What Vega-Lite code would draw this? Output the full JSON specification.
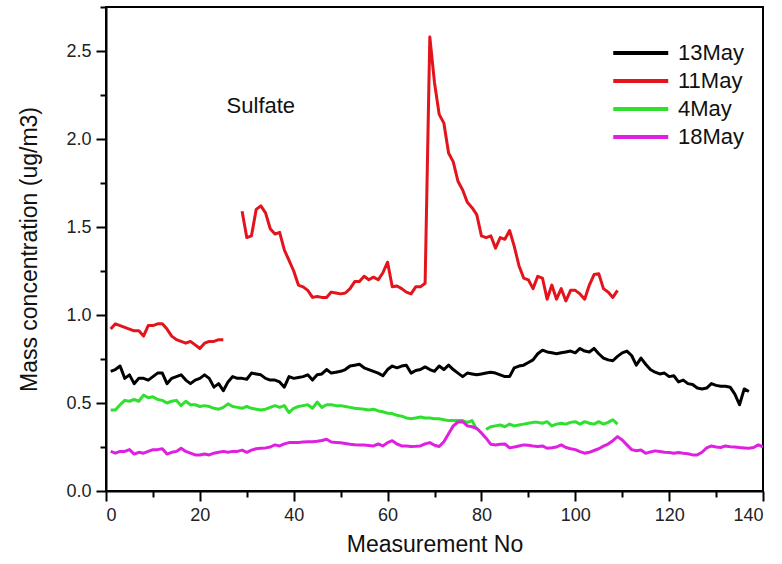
{
  "$schema": "https://vega.github.io/schema/vega-lite/v6.json",
  "width": 657,
  "height": 484,
  "autosize": {"type": "none"},
  "padding": {"left": 106, "top": 7, "right": 19, "bottom": 73},
  "background": "white",
  "config": {
    "font": "Liberation Sans",
    "view": {"stroke": "black", "strokeWidth": 2},
    "axis": {
      "grid": false,
      "domainColor": "black",
      "domainWidth": 2,
      "tickColor": "black",
      "tickWidth": 2,
      "labelFont": "Liberation Sans",
      "labelFontSize": 18,
      "labelColor": "#222",
      "titleFont": "Liberation Sans",
      "titleFontSize": 23,
      "titleFontWeight": "normal",
      "titleColor": "#111"
    },
    "legend": {
      "orient": "none",
      "legendX": 505,
      "legendY": 30,
      "title": null,
      "symbolType": "M-1,0H3",
      "symbolSize": 756,
      "symbolStrokeWidth": 4,
      "labelFont": "Liberation Sans",
      "labelFontSize": 22,
      "labelColor": "#111",
      "labelOffset": 35,
      "rowPadding": 1
    }
  },
  "data": {"values": [
    {"s":"13May","g":"13May","x":1,"y":0.68},{"s":"13May","g":"13May","x":2,"y":0.69},{"s":"13May","g":"13May","x":3,"y":0.71},{"s":"13May","g":"13May","x":4,"y":0.64},{"s":"13May","g":"13May","x":5,"y":0.66},{"s":"13May","g":"13May","x":6,"y":0.61},{"s":"13May","g":"13May","x":7,"y":0.64},{"s":"13May","g":"13May","x":8,"y":0.64},{"s":"13May","g":"13May","x":9,"y":0.63},{"s":"13May","g":"13May","x":10,"y":0.65},
    {"s":"13May","g":"13May","x":11,"y":0.67},{"s":"13May","g":"13May","x":12,"y":0.67},{"s":"13May","g":"13May","x":13,"y":0.61},{"s":"13May","g":"13May","x":14,"y":0.64},{"s":"13May","g":"13May","x":15,"y":0.65},{"s":"13May","g":"13May","x":16,"y":0.66},{"s":"13May","g":"13May","x":17,"y":0.63},{"s":"13May","g":"13May","x":18,"y":0.61},{"s":"13May","g":"13May","x":19,"y":0.63},{"s":"13May","g":"13May","x":20,"y":0.64},
    {"s":"13May","g":"13May","x":21,"y":0.66},{"s":"13May","g":"13May","x":22,"y":0.64},{"s":"13May","g":"13May","x":23,"y":0.59},{"s":"13May","g":"13May","x":24,"y":0.61},{"s":"13May","g":"13May","x":25,"y":0.57},{"s":"13May","g":"13May","x":26,"y":0.62},{"s":"13May","g":"13May","x":27,"y":0.65},{"s":"13May","g":"13May","x":28,"y":0.64},{"s":"13May","g":"13May","x":29,"y":0.64},{"s":"13May","g":"13May","x":30,"y":0.635},
    {"s":"13May","g":"13May","x":31,"y":0.67},{"s":"13May","g":"13May","x":32,"y":0.665},{"s":"13May","g":"13May","x":33,"y":0.66},{"s":"13May","g":"13May","x":34,"y":0.64},{"s":"13May","g":"13May","x":35,"y":0.63},{"s":"13May","g":"13May","x":36,"y":0.63},{"s":"13May","g":"13May","x":37,"y":0.62},{"s":"13May","g":"13May","x":38,"y":0.59},{"s":"13May","g":"13May","x":39,"y":0.65},{"s":"13May","g":"13May","x":40,"y":0.64},
    {"s":"13May","g":"13May","x":41,"y":0.645},{"s":"13May","g":"13May","x":42,"y":0.65},{"s":"13May","g":"13May","x":43,"y":0.66},{"s":"13May","g":"13May","x":44,"y":0.63},{"s":"13May","g":"13May","x":45,"y":0.66},{"s":"13May","g":"13May","x":46,"y":0.665},{"s":"13May","g":"13May","x":47,"y":0.69},{"s":"13May","g":"13May","x":48,"y":0.67},{"s":"13May","g":"13May","x":49,"y":0.675},{"s":"13May","g":"13May","x":50,"y":0.68},
    {"s":"13May","g":"13May","x":51,"y":0.69},{"s":"13May","g":"13May","x":52,"y":0.71},{"s":"13May","g":"13May","x":53,"y":0.715},{"s":"13May","g":"13May","x":54,"y":0.72},{"s":"13May","g":"13May","x":55,"y":0.70},{"s":"13May","g":"13May","x":56,"y":0.69},{"s":"13May","g":"13May","x":57,"y":0.68},{"s":"13May","g":"13May","x":58,"y":0.67},{"s":"13May","g":"13May","x":59,"y":0.655},{"s":"13May","g":"13May","x":60,"y":0.69},
    {"s":"13May","g":"13May","x":61,"y":0.71},{"s":"13May","g":"13May","x":62,"y":0.70},{"s":"13May","g":"13May","x":63,"y":0.71},{"s":"13May","g":"13May","x":64,"y":0.715},{"s":"13May","g":"13May","x":65,"y":0.67},{"s":"13May","g":"13May","x":66,"y":0.685},{"s":"13May","g":"13May","x":67,"y":0.69},{"s":"13May","g":"13May","x":68,"y":0.705},{"s":"13May","g":"13May","x":69,"y":0.69},{"s":"13May","g":"13May","x":70,"y":0.68},
    {"s":"13May","g":"13May","x":71,"y":0.71},{"s":"13May","g":"13May","x":72,"y":0.69},{"s":"13May","g":"13May","x":73,"y":0.715},{"s":"13May","g":"13May","x":74,"y":0.69},{"s":"13May","g":"13May","x":75,"y":0.67},{"s":"13May","g":"13May","x":76,"y":0.65},{"s":"13May","g":"13May","x":77,"y":0.67},{"s":"13May","g":"13May","x":78,"y":0.665},{"s":"13May","g":"13May","x":79,"y":0.66},{"s":"13May","g":"13May","x":80,"y":0.665},
    {"s":"13May","g":"13May","x":81,"y":0.67},{"s":"13May","g":"13May","x":82,"y":0.675},{"s":"13May","g":"13May","x":83,"y":0.67},{"s":"13May","g":"13May","x":84,"y":0.66},{"s":"13May","g":"13May","x":85,"y":0.65},{"s":"13May","g":"13May","x":86,"y":0.65},{"s":"13May","g":"13May","x":87,"y":0.70},{"s":"13May","g":"13May","x":88,"y":0.71},{"s":"13May","g":"13May","x":89,"y":0.715},{"s":"13May","g":"13May","x":90,"y":0.73},
    {"s":"13May","g":"13May","x":91,"y":0.745},{"s":"13May","g":"13May","x":92,"y":0.78},{"s":"13May","g":"13May","x":93,"y":0.80},{"s":"13May","g":"13May","x":94,"y":0.79},{"s":"13May","g":"13May","x":95,"y":0.785},{"s":"13May","g":"13May","x":96,"y":0.78},{"s":"13May","g":"13May","x":97,"y":0.785},{"s":"13May","g":"13May","x":98,"y":0.79},{"s":"13May","g":"13May","x":99,"y":0.795},{"s":"13May","g":"13May","x":100,"y":0.785},
    {"s":"13May","g":"13May","x":101,"y":0.81},{"s":"13May","g":"13May","x":102,"y":0.795},{"s":"13May","g":"13May","x":103,"y":0.79},{"s":"13May","g":"13May","x":104,"y":0.81},{"s":"13May","g":"13May","x":105,"y":0.78},{"s":"13May","g":"13May","x":106,"y":0.755},{"s":"13May","g":"13May","x":107,"y":0.745},{"s":"13May","g":"13May","x":108,"y":0.74},{"s":"13May","g":"13May","x":109,"y":0.765},{"s":"13May","g":"13May","x":110,"y":0.785},
    {"s":"13May","g":"13May","x":111,"y":0.795},{"s":"13May","g":"13May","x":112,"y":0.77},{"s":"13May","g":"13May","x":113,"y":0.715},{"s":"13May","g":"13May","x":114,"y":0.755},{"s":"13May","g":"13May","x":115,"y":0.72},{"s":"13May","g":"13May","x":116,"y":0.69},{"s":"13May","g":"13May","x":117,"y":0.675},{"s":"13May","g":"13May","x":118,"y":0.665},{"s":"13May","g":"13May","x":119,"y":0.67},{"s":"13May","g":"13May","x":120,"y":0.65},
    {"s":"13May","g":"13May","x":121,"y":0.655},{"s":"13May","g":"13May","x":122,"y":0.62},{"s":"13May","g":"13May","x":123,"y":0.63},{"s":"13May","g":"13May","x":124,"y":0.61},{"s":"13May","g":"13May","x":125,"y":0.605},{"s":"13May","g":"13May","x":126,"y":0.585},{"s":"13May","g":"13May","x":127,"y":0.58},{"s":"13May","g":"13May","x":128,"y":0.585},{"s":"13May","g":"13May","x":129,"y":0.61},{"s":"13May","g":"13May","x":130,"y":0.60},
    {"s":"13May","g":"13May","x":131,"y":0.595},{"s":"13May","g":"13May","x":132,"y":0.595},{"s":"13May","g":"13May","x":133,"y":0.59},{"s":"13May","g":"13May","x":134,"y":0.55},{"s":"13May","g":"13May","x":135,"y":0.49},{"s":"13May","g":"13May","x":136,"y":0.58},{"s":"13May","g":"13May","x":137,"y":0.565},

    {"s":"11May","g":"11May-a","x":1,"y":0.92},{"s":"11May","g":"11May-a","x":2,"y":0.95},{"s":"11May","g":"11May-a","x":3,"y":0.94},{"s":"11May","g":"11May-a","x":4,"y":0.93},{"s":"11May","g":"11May-a","x":5,"y":0.92},{"s":"11May","g":"11May-a","x":6,"y":0.91},{"s":"11May","g":"11May-a","x":7,"y":0.91},{"s":"11May","g":"11May-a","x":8,"y":0.88},{"s":"11May","g":"11May-a","x":9,"y":0.94},{"s":"11May","g":"11May-a","x":10,"y":0.94},
    {"s":"11May","g":"11May-a","x":11,"y":0.95},{"s":"11May","g":"11May-a","x":12,"y":0.95},{"s":"11May","g":"11May-a","x":13,"y":0.92},{"s":"11May","g":"11May-a","x":14,"y":0.88},{"s":"11May","g":"11May-a","x":15,"y":0.86},{"s":"11May","g":"11May-a","x":16,"y":0.85},{"s":"11May","g":"11May-a","x":17,"y":0.84},{"s":"11May","g":"11May-a","x":18,"y":0.85},{"s":"11May","g":"11May-a","x":19,"y":0.83},{"s":"11May","g":"11May-a","x":20,"y":0.81},
    {"s":"11May","g":"11May-a","x":21,"y":0.84},{"s":"11May","g":"11May-a","x":22,"y":0.85},{"s":"11May","g":"11May-a","x":23,"y":0.85},{"s":"11May","g":"11May-a","x":24,"y":0.86},{"s":"11May","g":"11May-a","x":25,"y":0.86},
    {"s":"11May","g":"11May-b","x":29,"y":1.59},{"s":"11May","g":"11May-b","x":30,"y":1.44},
    {"s":"11May","g":"11May-b","x":31,"y":1.45},{"s":"11May","g":"11May-b","x":32,"y":1.60},{"s":"11May","g":"11May-b","x":33,"y":1.62},{"s":"11May","g":"11May-b","x":34,"y":1.58},{"s":"11May","g":"11May-b","x":35,"y":1.49},{"s":"11May","g":"11May-b","x":36,"y":1.46},{"s":"11May","g":"11May-b","x":37,"y":1.47},{"s":"11May","g":"11May-b","x":38,"y":1.37},{"s":"11May","g":"11May-b","x":39,"y":1.31},{"s":"11May","g":"11May-b","x":40,"y":1.25},
    {"s":"11May","g":"11May-b","x":41,"y":1.17},{"s":"11May","g":"11May-b","x":42,"y":1.16},{"s":"11May","g":"11May-b","x":43,"y":1.14},{"s":"11May","g":"11May-b","x":44,"y":1.10},{"s":"11May","g":"11May-b","x":45,"y":1.105},{"s":"11May","g":"11May-b","x":46,"y":1.10},{"s":"11May","g":"11May-b","x":47,"y":1.10},{"s":"11May","g":"11May-b","x":48,"y":1.13},{"s":"11May","g":"11May-b","x":49,"y":1.125},{"s":"11May","g":"11May-b","x":50,"y":1.12},
    {"s":"11May","g":"11May-b","x":51,"y":1.125},{"s":"11May","g":"11May-b","x":52,"y":1.15},{"s":"11May","g":"11May-b","x":53,"y":1.19},{"s":"11May","g":"11May-b","x":54,"y":1.19},{"s":"11May","g":"11May-b","x":55,"y":1.22},{"s":"11May","g":"11May-b","x":56,"y":1.20},{"s":"11May","g":"11May-b","x":57,"y":1.215},{"s":"11May","g":"11May-b","x":58,"y":1.20},{"s":"11May","g":"11May-b","x":59,"y":1.24},{"s":"11May","g":"11May-b","x":60,"y":1.30},
    {"s":"11May","g":"11May-b","x":61,"y":1.16},{"s":"11May","g":"11May-b","x":62,"y":1.165},{"s":"11May","g":"11May-b","x":63,"y":1.15},{"s":"11May","g":"11May-b","x":64,"y":1.13},{"s":"11May","g":"11May-b","x":65,"y":1.12},{"s":"11May","g":"11May-b","x":66,"y":1.16},{"s":"11May","g":"11May-b","x":67,"y":1.16},{"s":"11May","g":"11May-b","x":68,"y":1.18},{"s":"11May","g":"11May-b","x":69,"y":2.58},{"s":"11May","g":"11May-b","x":70,"y":2.32},
    {"s":"11May","g":"11May-b","x":71,"y":2.14},{"s":"11May","g":"11May-b","x":72,"y":2.09},{"s":"11May","g":"11May-b","x":73,"y":1.92},{"s":"11May","g":"11May-b","x":74,"y":1.87},{"s":"11May","g":"11May-b","x":75,"y":1.76},{"s":"11May","g":"11May-b","x":76,"y":1.71},{"s":"11May","g":"11May-b","x":77,"y":1.64},{"s":"11May","g":"11May-b","x":78,"y":1.61},{"s":"11May","g":"11May-b","x":79,"y":1.57},{"s":"11May","g":"11May-b","x":80,"y":1.45},
    {"s":"11May","g":"11May-b","x":81,"y":1.44},{"s":"11May","g":"11May-b","x":82,"y":1.45},{"s":"11May","g":"11May-b","x":83,"y":1.38},{"s":"11May","g":"11May-b","x":84,"y":1.44},{"s":"11May","g":"11May-b","x":85,"y":1.43},{"s":"11May","g":"11May-b","x":86,"y":1.48},{"s":"11May","g":"11May-b","x":87,"y":1.39},{"s":"11May","g":"11May-b","x":88,"y":1.28},{"s":"11May","g":"11May-b","x":89,"y":1.21},{"s":"11May","g":"11May-b","x":90,"y":1.20},
    {"s":"11May","g":"11May-b","x":91,"y":1.15},{"s":"11May","g":"11May-b","x":92,"y":1.22},{"s":"11May","g":"11May-b","x":93,"y":1.21},{"s":"11May","g":"11May-b","x":94,"y":1.09},{"s":"11May","g":"11May-b","x":95,"y":1.17},{"s":"11May","g":"11May-b","x":96,"y":1.09},{"s":"11May","g":"11May-b","x":97,"y":1.15},{"s":"11May","g":"11May-b","x":98,"y":1.08},{"s":"11May","g":"11May-b","x":99,"y":1.14},{"s":"11May","g":"11May-b","x":100,"y":1.14},
    {"s":"11May","g":"11May-b","x":101,"y":1.12},{"s":"11May","g":"11May-b","x":102,"y":1.09},{"s":"11May","g":"11May-b","x":103,"y":1.17},{"s":"11May","g":"11May-b","x":104,"y":1.23},{"s":"11May","g":"11May-b","x":105,"y":1.235},{"s":"11May","g":"11May-b","x":106,"y":1.15},{"s":"11May","g":"11May-b","x":107,"y":1.13},{"s":"11May","g":"11May-b","x":108,"y":1.10},{"s":"11May","g":"11May-b","x":109,"y":1.14},

    {"s":"4May","g":"4May-a","x":1,"y":0.46},{"s":"4May","g":"4May-a","x":2,"y":0.46},{"s":"4May","g":"4May-a","x":3,"y":0.49},{"s":"4May","g":"4May-a","x":4,"y":0.515},{"s":"4May","g":"4May-a","x":5,"y":0.51},{"s":"4May","g":"4May-a","x":6,"y":0.52},{"s":"4May","g":"4May-a","x":7,"y":0.51},{"s":"4May","g":"4May-a","x":8,"y":0.545},{"s":"4May","g":"4May-a","x":9,"y":0.53},{"s":"4May","g":"4May-a","x":10,"y":0.535},
    {"s":"4May","g":"4May-a","x":11,"y":0.52},{"s":"4May","g":"4May-a","x":12,"y":0.515},{"s":"4May","g":"4May-a","x":13,"y":0.50},{"s":"4May","g":"4May-a","x":14,"y":0.51},{"s":"4May","g":"4May-a","x":15,"y":0.515},{"s":"4May","g":"4May-a","x":16,"y":0.485},{"s":"4May","g":"4May-a","x":17,"y":0.51},{"s":"4May","g":"4May-a","x":18,"y":0.49},{"s":"4May","g":"4May-a","x":19,"y":0.49},{"s":"4May","g":"4May-a","x":20,"y":0.48},
    {"s":"4May","g":"4May-a","x":21,"y":0.485},{"s":"4May","g":"4May-a","x":22,"y":0.48},{"s":"4May","g":"4May-a","x":23,"y":0.47},{"s":"4May","g":"4May-a","x":24,"y":0.465},{"s":"4May","g":"4May-a","x":25,"y":0.475},{"s":"4May","g":"4May-a","x":26,"y":0.495},{"s":"4May","g":"4May-a","x":27,"y":0.48},{"s":"4May","g":"4May-a","x":28,"y":0.475},{"s":"4May","g":"4May-a","x":29,"y":0.47},{"s":"4May","g":"4May-a","x":30,"y":0.48},
    {"s":"4May","g":"4May-a","x":31,"y":0.47},{"s":"4May","g":"4May-a","x":32,"y":0.465},{"s":"4May","g":"4May-a","x":33,"y":0.46},{"s":"4May","g":"4May-a","x":34,"y":0.465},{"s":"4May","g":"4May-a","x":35,"y":0.475},{"s":"4May","g":"4May-a","x":36,"y":0.485},{"s":"4May","g":"4May-a","x":37,"y":0.475},{"s":"4May","g":"4May-a","x":38,"y":0.485},{"s":"4May","g":"4May-a","x":39,"y":0.445},{"s":"4May","g":"4May-a","x":40,"y":0.47},
    {"s":"4May","g":"4May-a","x":41,"y":0.48},{"s":"4May","g":"4May-a","x":42,"y":0.485},{"s":"4May","g":"4May-a","x":43,"y":0.49},{"s":"4May","g":"4May-a","x":44,"y":0.47},{"s":"4May","g":"4May-a","x":45,"y":0.505},{"s":"4May","g":"4May-a","x":46,"y":0.475},{"s":"4May","g":"4May-a","x":47,"y":0.49},{"s":"4May","g":"4May-a","x":48,"y":0.49},{"s":"4May","g":"4May-a","x":49,"y":0.485},{"s":"4May","g":"4May-a","x":50,"y":0.485},
    {"s":"4May","g":"4May-a","x":51,"y":0.48},{"s":"4May","g":"4May-a","x":52,"y":0.475},{"s":"4May","g":"4May-a","x":53,"y":0.47},{"s":"4May","g":"4May-a","x":54,"y":0.468},{"s":"4May","g":"4May-a","x":55,"y":0.465},{"s":"4May","g":"4May-a","x":56,"y":0.46},{"s":"4May","g":"4May-a","x":57,"y":0.465},{"s":"4May","g":"4May-a","x":58,"y":0.455},{"s":"4May","g":"4May-a","x":59,"y":0.45},{"s":"4May","g":"4May-a","x":60,"y":0.442},
    {"s":"4May","g":"4May-a","x":61,"y":0.44},{"s":"4May","g":"4May-a","x":62,"y":0.43},{"s":"4May","g":"4May-a","x":63,"y":0.425},{"s":"4May","g":"4May-a","x":64,"y":0.415},{"s":"4May","g":"4May-a","x":65,"y":0.41},{"s":"4May","g":"4May-a","x":66,"y":0.415},{"s":"4May","g":"4May-a","x":67,"y":0.42},{"s":"4May","g":"4May-a","x":68,"y":0.415},{"s":"4May","g":"4May-a","x":69,"y":0.415},{"s":"4May","g":"4May-a","x":70,"y":0.41},
    {"s":"4May","g":"4May-a","x":71,"y":0.41},{"s":"4May","g":"4May-a","x":72,"y":0.405},{"s":"4May","g":"4May-a","x":73,"y":0.40},{"s":"4May","g":"4May-a","x":74,"y":0.40},{"s":"4May","g":"4May-a","x":75,"y":0.40},{"s":"4May","g":"4May-a","x":76,"y":0.40},{"s":"4May","g":"4May-a","x":77,"y":0.39},{"s":"4May","g":"4May-a","x":78,"y":0.40},{"s":"4May","g":"4May-a","x":79,"y":0.35},
    {"s":"4May","g":"4May-b","x":81,"y":0.35},{"s":"4May","g":"4May-b","x":82,"y":0.365},{"s":"4May","g":"4May-b","x":83,"y":0.37},{"s":"4May","g":"4May-b","x":84,"y":0.375},{"s":"4May","g":"4May-b","x":85,"y":0.365},{"s":"4May","g":"4May-b","x":86,"y":0.38},{"s":"4May","g":"4May-b","x":87,"y":0.37},{"s":"4May","g":"4May-b","x":88,"y":0.375},{"s":"4May","g":"4May-b","x":89,"y":0.38},{"s":"4May","g":"4May-b","x":90,"y":0.385},
    {"s":"4May","g":"4May-b","x":91,"y":0.39},{"s":"4May","g":"4May-b","x":92,"y":0.39},{"s":"4May","g":"4May-b","x":93,"y":0.385},{"s":"4May","g":"4May-b","x":94,"y":0.394},{"s":"4May","g":"4May-b","x":95,"y":0.37},{"s":"4May","g":"4May-b","x":96,"y":0.38},{"s":"4May","g":"4May-b","x":97,"y":0.385},{"s":"4May","g":"4May-b","x":98,"y":0.38},{"s":"4May","g":"4May-b","x":99,"y":0.39},{"s":"4May","g":"4May-b","x":100,"y":0.394},
    {"s":"4May","g":"4May-b","x":101,"y":0.38},{"s":"4May","g":"4May-b","x":102,"y":0.394},{"s":"4May","g":"4May-b","x":103,"y":0.385},{"s":"4May","g":"4May-b","x":104,"y":0.38},{"s":"4May","g":"4May-b","x":105,"y":0.394},{"s":"4May","g":"4May-b","x":106,"y":0.38},{"s":"4May","g":"4May-b","x":107,"y":0.39},{"s":"4May","g":"4May-b","x":108,"y":0.405},{"s":"4May","g":"4May-b","x":109,"y":0.38},

    {"s":"18May","g":"18May","x":1,"y":0.225},{"s":"18May","g":"18May","x":2,"y":0.215},{"s":"18May","g":"18May","x":3,"y":0.225},{"s":"18May","g":"18May","x":4,"y":0.225},{"s":"18May","g":"18May","x":5,"y":0.235},{"s":"18May","g":"18May","x":6,"y":0.21},{"s":"18May","g":"18May","x":7,"y":0.22},{"s":"18May","g":"18May","x":8,"y":0.215},{"s":"18May","g":"18May","x":9,"y":0.225},{"s":"18May","g":"18May","x":10,"y":0.235},
    {"s":"18May","g":"18May","x":11,"y":0.235},{"s":"18May","g":"18May","x":12,"y":0.24},{"s":"18May","g":"18May","x":13,"y":0.21},{"s":"18May","g":"18May","x":14,"y":0.22},{"s":"18May","g":"18May","x":15,"y":0.225},{"s":"18May","g":"18May","x":16,"y":0.243},{"s":"18May","g":"18May","x":17,"y":0.225},{"s":"18May","g":"18May","x":18,"y":0.215},{"s":"18May","g":"18May","x":19,"y":0.205},{"s":"18May","g":"18May","x":20,"y":0.205},
    {"s":"18May","g":"18May","x":21,"y":0.21},{"s":"18May","g":"18May","x":22,"y":0.205},{"s":"18May","g":"18May","x":23,"y":0.215},{"s":"18May","g":"18May","x":24,"y":0.22},{"s":"18May","g":"18May","x":25,"y":0.225},{"s":"18May","g":"18May","x":26,"y":0.22},{"s":"18May","g":"18May","x":27,"y":0.225},{"s":"18May","g":"18May","x":28,"y":0.225},{"s":"18May","g":"18May","x":29,"y":0.232},{"s":"18May","g":"18May","x":30,"y":0.22},
    {"s":"18May","g":"18May","x":31,"y":0.232},{"s":"18May","g":"18May","x":32,"y":0.24},{"s":"18May","g":"18May","x":33,"y":0.243},{"s":"18May","g":"18May","x":34,"y":0.245},{"s":"18May","g":"18May","x":35,"y":0.25},{"s":"18May","g":"18May","x":36,"y":0.262},{"s":"18May","g":"18May","x":37,"y":0.256},{"s":"18May","g":"18May","x":38,"y":0.268},{"s":"18May","g":"18May","x":39,"y":0.275},{"s":"18May","g":"18May","x":40,"y":0.275},
    {"s":"18May","g":"18May","x":41,"y":0.275},{"s":"18May","g":"18May","x":42,"y":0.278},{"s":"18May","g":"18May","x":43,"y":0.28},{"s":"18May","g":"18May","x":44,"y":0.28},{"s":"18May","g":"18May","x":45,"y":0.283},{"s":"18May","g":"18May","x":46,"y":0.287},{"s":"18May","g":"18May","x":47,"y":0.294},{"s":"18May","g":"18May","x":48,"y":0.278},{"s":"18May","g":"18May","x":49,"y":0.276},{"s":"18May","g":"18May","x":50,"y":0.274},
    {"s":"18May","g":"18May","x":51,"y":0.27},{"s":"18May","g":"18May","x":52,"y":0.266},{"s":"18May","g":"18May","x":53,"y":0.263},{"s":"18May","g":"18May","x":54,"y":0.262},{"s":"18May","g":"18May","x":55,"y":0.262},{"s":"18May","g":"18May","x":56,"y":0.259},{"s":"18May","g":"18May","x":57,"y":0.256},{"s":"18May","g":"18May","x":58,"y":0.267},{"s":"18May","g":"18May","x":59,"y":0.256},{"s":"18May","g":"18May","x":60,"y":0.275},
    {"s":"18May","g":"18May","x":61,"y":0.286},{"s":"18May","g":"18May","x":62,"y":0.267},{"s":"18May","g":"18May","x":63,"y":0.256},{"s":"18May","g":"18May","x":64,"y":0.255},{"s":"18May","g":"18May","x":65,"y":0.253},{"s":"18May","g":"18May","x":66,"y":0.254},{"s":"18May","g":"18May","x":67,"y":0.256},{"s":"18May","g":"18May","x":68,"y":0.268},{"s":"18May","g":"18May","x":69,"y":0.275},{"s":"18May","g":"18May","x":70,"y":0.26},
    {"s":"18May","g":"18May","x":71,"y":0.253},{"s":"18May","g":"18May","x":72,"y":0.28},{"s":"18May","g":"18May","x":73,"y":0.325},{"s":"18May","g":"18May","x":74,"y":0.37},{"s":"18May","g":"18May","x":75,"y":0.392},{"s":"18May","g":"18May","x":76,"y":0.394},{"s":"18May","g":"18May","x":77,"y":0.37},{"s":"18May","g":"18May","x":78,"y":0.365},{"s":"18May","g":"18May","x":79,"y":0.356},{"s":"18May","g":"18May","x":80,"y":0.33},
    {"s":"18May","g":"18May","x":81,"y":0.30},{"s":"18May","g":"18May","x":82,"y":0.265},{"s":"18May","g":"18May","x":83,"y":0.262},{"s":"18May","g":"18May","x":84,"y":0.265},{"s":"18May","g":"18May","x":85,"y":0.267},{"s":"18May","g":"18May","x":86,"y":0.245},{"s":"18May","g":"18May","x":87,"y":0.25},{"s":"18May","g":"18May","x":88,"y":0.256},{"s":"18May","g":"18May","x":89,"y":0.262},{"s":"18May","g":"18May","x":90,"y":0.26},
    {"s":"18May","g":"18May","x":91,"y":0.256},{"s":"18May","g":"18May","x":92,"y":0.253},{"s":"18May","g":"18May","x":93,"y":0.256},{"s":"18May","g":"18May","x":94,"y":0.243},{"s":"18May","g":"18May","x":95,"y":0.246},{"s":"18May","g":"18May","x":96,"y":0.25},{"s":"18May","g":"18May","x":97,"y":0.262},{"s":"18May","g":"18May","x":98,"y":0.247},{"s":"18May","g":"18May","x":99,"y":0.24},{"s":"18May","g":"18May","x":100,"y":0.235},
    {"s":"18May","g":"18May","x":101,"y":0.224},{"s":"18May","g":"18May","x":102,"y":0.215},{"s":"18May","g":"18May","x":103,"y":0.22},{"s":"18May","g":"18May","x":104,"y":0.23},{"s":"18May","g":"18May","x":105,"y":0.24},{"s":"18May","g":"18May","x":106,"y":0.255},{"s":"18May","g":"18May","x":107,"y":0.267},{"s":"18May","g":"18May","x":108,"y":0.286},{"s":"18May","g":"18May","x":109,"y":0.309},{"s":"18May","g":"18May","x":110,"y":0.29},
    {"s":"18May","g":"18May","x":111,"y":0.262},{"s":"18May","g":"18May","x":112,"y":0.235},{"s":"18May","g":"18May","x":113,"y":0.229},{"s":"18May","g":"18May","x":114,"y":0.233},{"s":"18May","g":"18May","x":115,"y":0.214},{"s":"18May","g":"18May","x":116,"y":0.222},{"s":"18May","g":"18May","x":117,"y":0.228},{"s":"18May","g":"18May","x":118,"y":0.224},{"s":"18May","g":"18May","x":119,"y":0.22},{"s":"18May","g":"18May","x":120,"y":0.219},
    {"s":"18May","g":"18May","x":121,"y":0.214},{"s":"18May","g":"18May","x":122,"y":0.219},{"s":"18May","g":"18May","x":123,"y":0.215},{"s":"18May","g":"18May","x":124,"y":0.212},{"s":"18May","g":"18May","x":125,"y":0.205},{"s":"18May","g":"18May","x":126,"y":0.205},{"s":"18May","g":"18May","x":127,"y":0.22},{"s":"18May","g":"18May","x":128,"y":0.245},{"s":"18May","g":"18May","x":129,"y":0.256},{"s":"18May","g":"18May","x":130,"y":0.25},
    {"s":"18May","g":"18May","x":131,"y":0.247},{"s":"18May","g":"18May","x":132,"y":0.256},{"s":"18May","g":"18May","x":133,"y":0.252},{"s":"18May","g":"18May","x":134,"y":0.25},{"s":"18May","g":"18May","x":135,"y":0.247},{"s":"18May","g":"18May","x":136,"y":0.245},{"s":"18May","g":"18May","x":137,"y":0.243},{"s":"18May","g":"18May","x":138,"y":0.247},{"s":"18May","g":"18May","x":139,"y":0.262},{"s":"18May","g":"18May","x":140,"y":0.25}
  ]},
  "layer": [
    {
      "mark": {"type": "line", "strokeWidth": 3, "strokeJoin": "round", "clip": true},
      "encoding": {
        "x": {
          "field": "x", "type": "quantitative",
          "scale": {"domain": [0, 140], "nice": false},
          "axis": {
            "title": "Measurement No",
            "values": [0,10,20,30,40,50,60,70,80,90,100,110,120,130,140],
            "labelExpr": "datum.value % 20 === 0 ? datum.label : ''",
            "tickSize": {"condition": {"test": "datum.value % 20 === 0", "value": 10}, "value": 6},
            "labelPadding": 5,
            "titlePadding": 9
          }
        },
        "y": {
          "field": "y", "type": "quantitative",
          "scale": {"domain": [0, 2.75], "nice": false},
          "axis": {
            "title": "Mass concentration (ug/m3)",
            "values": [0,0.25,0.5,0.75,1,1.25,1.5,1.75,2,2.25,2.5,2.75],
            "format": ".1f",
            "labelExpr": "round(datum.value*4) % 2 === 0 ? datum.label : ''",
            "tickSize": {"condition": {"test": "round(datum.value*4) % 2 === 0", "value": 10}, "value": 6},
            "labelPadding": 5,
            "titlePadding": 24
          }
        },
        "color": {
          "field": "s", "type": "nominal",
          "scale": {"domain": ["13May", "11May", "4May", "18May"], "range": ["#000000", "#e3141b", "#2fe02f", "#e020e0"]}
        },
        "detail": {"field": "g"},
        "order": {"field": "x"}
      }
    },
    {
      "data": {"values": [{"x": 25.7, "y": 2.19, "t": "Sulfate"}]},
      "mark": {"type": "text", "align": "left", "baseline": "middle", "fontSize": 22, "font": "Liberation Sans", "color": "#111"},
      "encoding": {
        "x": {"field": "x", "type": "quantitative"},
        "y": {"field": "y", "type": "quantitative"},
        "text": {"field": "t"}
      }
    }
  ]
}
